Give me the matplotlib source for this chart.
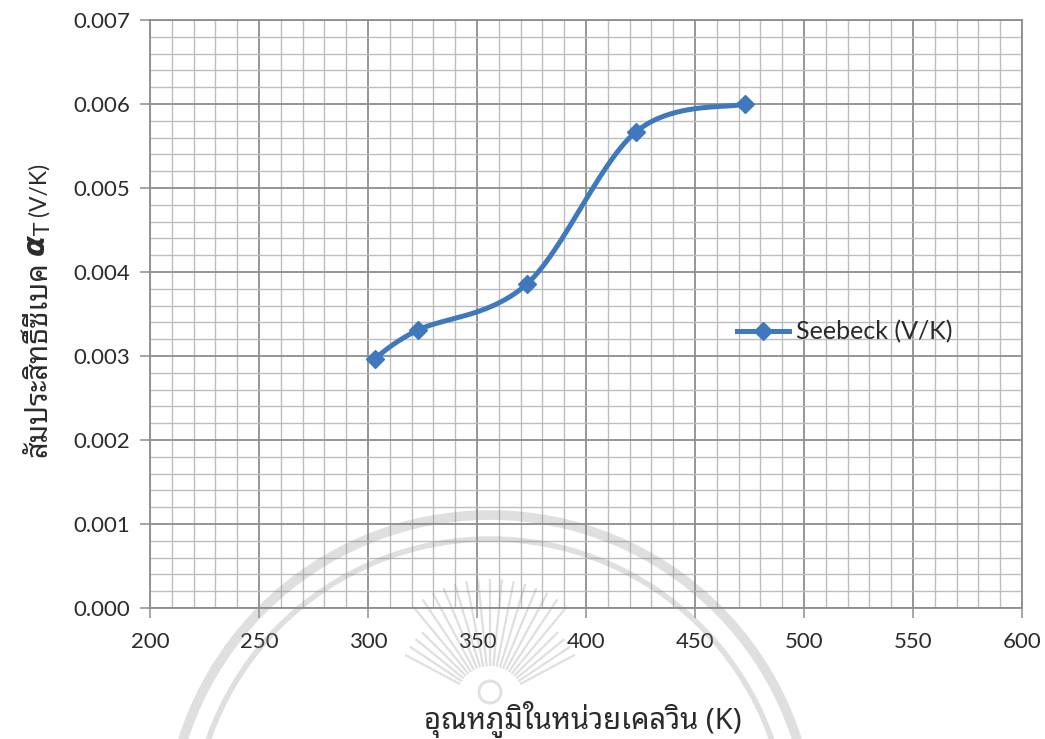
import numpy as np
import matplotlib
matplotlib.use("Agg")
import matplotlib.pyplot as plt
from matplotlib.ticker import MultipleLocator, FormatStrFormatter
from matplotlib.patches import Arc

# Seebeck coefficient versus absolute temperature
temperature_k = [303, 323, 373, 423, 473]
seebeck_v_per_k = [0.00297, 0.00331, 0.00386, 0.00567, 0.00600]
series_label = "Seebeck (V/K)"
x_label = "อุณหภูมิในหน่วยเคลวิน (K)"
y_label_thai = "สัมประสิทธิ์ซีเบค"
y_label_symbol = r"$\boldsymbol{\alpha}_{\mathrm{T}}$"
y_label_unit = "(V/K)"

LATIN = ["Lato", "DejaVu Sans"]
THAI = ["Noto Sans Thai Looped", "DejaVu Sans"]
LINE_BLUE = "#3f78bd"
MAJOR_GRID = "#8e8e8e"
MINOR_GRID = "#bdbdbd"
TEXT = "#2b2b2b"

plt.rcParams["mathtext.fontset"] = "dejavusans"


def smooth_curve(xs, ys, steps=40):
    """Piecewise cubic Bezier through the points (spreadsheet-style smoothing)."""
    p = np.column_stack([xs, ys]).astype(float)
    ext = np.vstack([p[0], p, p[-1]])
    out = []
    t = np.linspace(0, 1, steps)[:, None]
    for i in range(1, len(ext) - 2):
        p0, p1, p2, p3 = ext[i - 1], ext[i], ext[i + 1], ext[i + 2]
        c1 = p1 + (p2 - p0) / 6.0
        c2 = p2 - (p3 - p1) / 6.0
        seg = ((1 - t) ** 3) * p1 + 3 * ((1 - t) ** 2) * t * c1 \
            + 3 * (1 - t) * t ** 2 * c2 + t ** 3 * p2
        out.append(seg if i == 1 else seg[1:])
    seg = np.vstack(out)
    return seg[:, 0], seg[:, 1]


W, H = 1045, 739
fig = plt.figure(figsize=(W / 100, H / 100), dpi=100)
fig.patch.set_facecolor("white")

ax = fig.add_axes([150 / W, 1 - 608 / H, (1022 - 150) / W, (608 - 20) / H])
ax.set_xlim(200, 600)
ax.set_ylim(0, 0.007)
ax.xaxis.set_major_locator(MultipleLocator(50))
ax.xaxis.set_minor_locator(MultipleLocator(10))
ax.yaxis.set_major_locator(MultipleLocator(0.001))
ax.yaxis.set_minor_locator(MultipleLocator(0.0002))
ax.yaxis.set_major_formatter(FormatStrFormatter("%.3f"))

ax.grid(which="minor", color=MINOR_GRID, linewidth=1.0, zorder=0)
ax.grid(which="major", color=MAJOR_GRID, linewidth=1.3, zorder=0)
ax.set_axisbelow(True)
for side in ax.spines.values():
    side.set_color(MAJOR_GRID)
    side.set_linewidth(1.3)

ax.tick_params(which="major", direction="out", length=7, width=1.1,
               color=MAJOR_GRID, labelcolor=TEXT, labelsize=16)
ax.tick_params(axis="y", which="major", pad=7)
ax.tick_params(axis="x", which="major", pad=10)
ax.tick_params(which="minor", length=0)
for lbl in ax.get_xticklabels() + ax.get_yticklabels():
    lbl.set_family(LATIN)

# Smoothed series with diamond markers
cx, cy = smooth_curve(temperature_k, seebeck_v_per_k)
ax.plot(cx, cy, color=LINE_BLUE, linewidth=3.6, solid_capstyle="round", zorder=3)
ax.plot(temperature_k, seebeck_v_per_k, linestyle="none", marker="D",
        markersize=9.5, color=LINE_BLUE, zorder=4)

legend_handle = plt.Line2D([], [], color=LINE_BLUE, linewidth=3.6, marker="D",
                           markersize=9.5)
leg = fig.legend([legend_handle], [series_label], loc="center left",
                 bbox_to_anchor=(719 / W, 1 - 332 / H), frameon=False,
                 handlelength=2.1, handletextpad=0.3, borderpad=0.2,
                 prop={"family": LATIN, "size": 18})
for t in leg.get_texts():
    t.set_color(TEXT)

# Axis titles
fig.text(583 / W, 1 - 729 / H, x_label, ha="center", va="baseline",
         family=THAI, fontsize=21, color=TEXT)

fig.canvas.draw()
renderer = fig.canvas.get_renderer()
base_x = 46 / W
thai = fig.text(base_x, 1 - 457 / H, y_label_thai, rotation=90,
                rotation_mode="anchor", ha="left", va="baseline",
                family=THAI, fontsize=21, color=TEXT)
thai_len = thai.get_window_extent(renderer).height
sym_y = 457 - thai_len - 4
sym = fig.text(base_x, 1 - sym_y / H, y_label_symbol, rotation=90,
               rotation_mode="anchor", ha="left", va="baseline",
               fontsize=22, color=TEXT)
sym_len = sym.get_window_extent(renderer).height
unit_y = sym_y - sym_len - 5
fig.text(base_x, 1 - unit_y / H, y_label_unit, rotation=90,
         rotation_mode="anchor", ha="left", va="baseline",
         family=LATIN, fontsize=16.5, color=TEXT)

# Faint emblem watermark across the lower part of the page
wm = fig.add_axes([0, 0, 1, 1], facecolor="none", zorder=5)
wm.set_xlim(0, W)
wm.set_ylim(H, 0)
wm.axis("off")
wm_col = (0.55, 0.55, 0.55, 0.28)
for r, lw in ((322, 7), (298, 4)):
    wm.add_patch(Arc((490, 837), 2 * r, 2 * r, theta1=180, theta2=360,
                     color=wm_col, linewidth=lw))
cx0, cy0 = 490, 700
for ang in np.linspace(-62, 62, 23):
    a = np.deg2rad(ang)
    r0, r1 = 35, 120 if abs(ang) < 40 else 95
    wm.plot([cx0 + r0 * np.sin(a), cx0 + r1 * np.sin(a)],
            [cy0 - r0 * np.cos(a), cy0 - r1 * np.cos(a)],
            color=wm_col, linewidth=1.6)
wm.add_patch(Arc((490, 692), 22, 22, color=wm_col, linewidth=2))

fig.savefig("out.png", dpi=100)
